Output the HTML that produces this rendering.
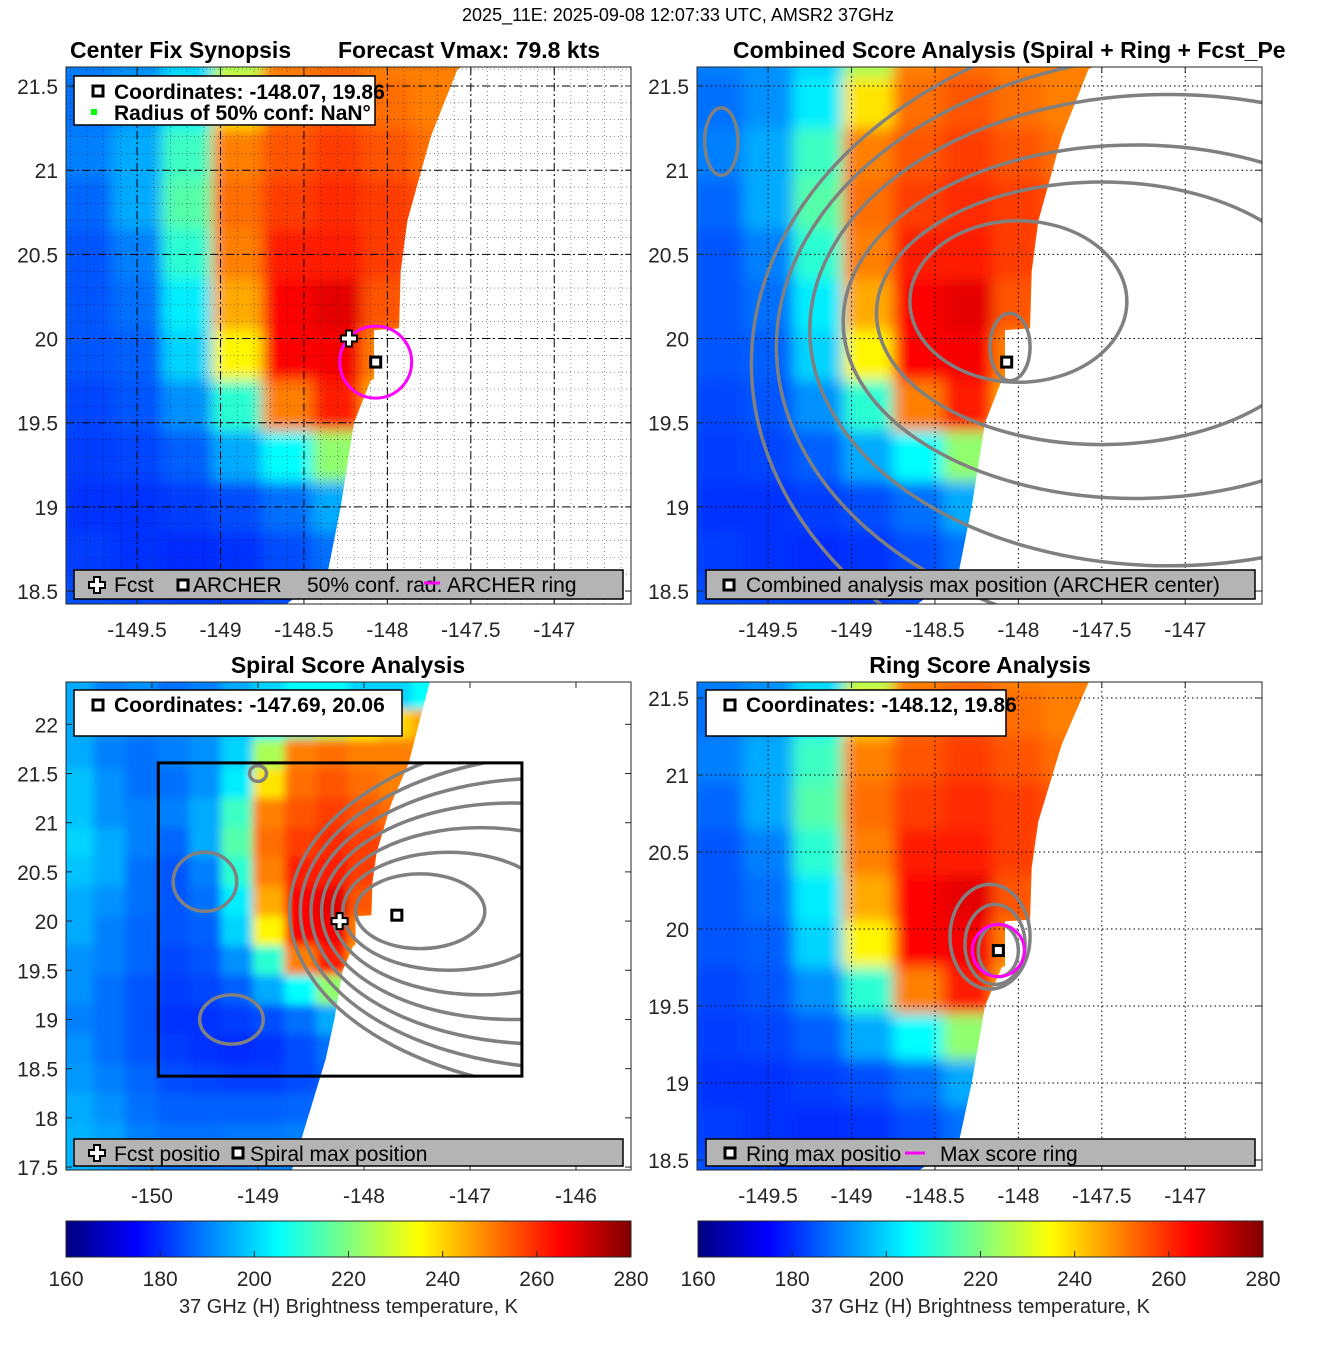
<!DOCTYPE html>
<html><head><meta charset="utf-8">
<style>
html,body{margin:0;padding:0;background:#fff;width:1317px;height:1350px;overflow:hidden;}
svg{display:block;font-family:"Liberation Sans",sans-serif;overflow:hidden;}
</style></head>
<body>
<svg id="fig" xmlns="http://www.w3.org/2000/svg" width="1317" height="1350" viewBox="0 0 1317 1350">
<text x="678" y="21" font-size="18" text-anchor="middle">2025_11E: 2025-09-08 12:07:33 UTC, AMSR2 37GHz</text>
<text x="70" y="58" font-size="23" font-weight="bold">Center Fix Synopsis</text>
<text x="338" y="58" font-size="23" font-weight="bold">Forecast Vmax: 79.8 kts</text>
<text x="733" y="58" font-size="23" font-weight="bold">Combined Score Analysis (Spiral + Ring + Fcst_Pe</text>
<text x="348" y="673" font-size="23" font-weight="bold" text-anchor="middle">Spiral Score Analysis</text>
<text x="980" y="673" font-size="23" font-weight="bold" text-anchor="middle">Ring Score Analysis</text>
<defs>
<filter id="blurA" x="-5%" y="-5%" width="110%" height="110%"><feGaussianBlur stdDeviation="7"/></filter>
<filter id="blurB" x="-5%" y="-5%" width="110%" height="110%"><feGaussianBlur stdDeviation="4.5"/></filter>
</defs>
<g id="layer"></g>
</svg>
<script>
// ---- data ----
const lonCenters = [-150.7,-150.4,-150.1,-149.8,-149.5,-149.2,-148.9,-148.6,-148.3,-148.0,-147.7,-147.4];
const latCenters = [22.3,22.0,21.7,21.4,21.1,20.8,20.5,20.2,19.9,19.6,19.3,19.0,18.7,18.4,18.1,17.8,17.5];
const tb = [
[195,190,192,188,190,195,200,205,205,200,200,205],
[195,192,190,190,192,198,205,215,225,235,240,245],
[195,190,188,190,192,200,225,250,252,250,250,250],
[198,192,188,188,192,203,238,252,255,252,250,250],
[198,192,190,190,195,212,250,255,258,255,252,250],
[200,195,190,187,195,215,252,258,260,258,255,250],
[198,195,188,185,190,210,250,262,262,258,250,240],
[195,192,188,185,188,203,245,265,268,255,235,220],
[195,190,187,185,186,200,236,265,266,250,205,200],
[192,190,187,183,185,192,210,250,262,245,215,200],
[192,188,185,182,183,186,195,205,222,225,210,200],
[190,188,185,181,181,182,184,188,195,198,195,195],
[192,188,185,182,181,180,181,184,188,190,190,190],
[193,190,187,184,183,182,182,184,186,188,188,188],
[195,192,188,186,186,186,186,187,188,188,188,188],
[196,194,190,188,188,189,189,190,190,190,190,190],
[196,194,190,188,188,189,190,190,190,190,190,190]];
const swathEdgeLat = [17.0,18.6,19.0,19.5,19.75,19.76,20.05,20.06,20.4,20.7,21.2,21.6,22.43,23.0];
const swathEdgeLon = [-148.72,-148.36,-148.28,-148.2,-148.1,-148.08,-148.08,-147.93,-147.92,-147.88,-147.74,-147.58,-147.38,-147.24];
const xTicks12 = [-149.5,-149,-148.5,-148,-147.5,-147];
const xTicks3 = [-150,-149,-148,-147,-146];
const yTicks12 = [21.5,21,20.5,20,19.5,19,18.5];
const yTicks3 = [22,21.5,21,20.5,20,19.5,19,18.5,18,17.5];
const yTicks4 = [21.5,21,20.5,20,19.5,19,18.5];
const cbTicks = [160,180,200,220,240,260,280];
// contour ellipses [lon, lat, rx, ry]
const contours2 = [[-148.0,20.22,0.65,0.48],[-147.5,20.15,1.35,0.78],[-147.3,20.1,1.75,1.05],[-147.1,20.05,2.15,1.4],[-146.9,19.95,2.55,1.75],[-146.7,19.85,2.9,2.1],[-149.78,21.17,0.1,0.2],[-148.05,19.95,0.12,0.2]];
const contours3 = [[-147.47,20.1,0.61,0.38],[-147.2,20.1,1.0,0.6],[-146.9,20.1,1.4,0.85],[-146.6,20.1,1.8,1.1],[-146.3,20.1,2.2,1.35],[-146.0,20.1,2.6,1.6],[-145.7,20.1,3.0,1.85],[-149.5,20.4,0.3,0.3],[-149.25,19.0,0.3,0.25],[-149.0,21.5,0.08,0.08]];
const contours4 = [[-148.12,19.86,0.12,0.17],[-148.14,19.9,0.18,0.26],[-148.17,19.95,0.24,0.34]];

const panels = [
 {id:'p1',x0:66,x1:631,y0:67,y1:604,lon0:-149.926,lon1:-146.54,lat0:18.423,lat1:21.613,xt:xTicks12,yt:yTicks12,grid:'dash',blur:'blurA'},
 {id:'p2',x0:697,x1:1262,y0:67,y1:604,lon0:-149.926,lon1:-146.54,lat0:18.423,lat1:21.613,xt:xTicks12,yt:yTicks12,grid:'dot',blur:'blurA'},
 {id:'p3',x0:66,x1:631,y0:682,y1:1170,lon0:-150.811,lon1:-145.481,lat0:17.47,lat1:22.43,xt:xTicks3,yt:yTicks3,grid:'none',blur:'blurB'},
 {id:'p4',x0:697,x1:1262,y0:682,y1:1170,lon0:-149.926,lon1:-146.54,lat0:18.435,lat1:21.604,xt:xTicks12,yt:yTicks4,grid:'dot',blur:'blurA'}];

const NS='http://www.w3.org/2000/svg';
const layer=document.getElementById('layer');
function mk(tag,attrs,parent){const e=document.createElementNS(NS,tag);for(const k in attrs)e.setAttribute(k,attrs[k]);(parent||layer).appendChild(e);return e;}
function sx(p,lon){return p.x0+(lon-p.lon0)/(p.lon1-p.lon0)*(p.x1-p.x0);}
function sy(p,lat){return p.y0+(p.lat1-lat)/(p.lat1-p.lat0)*(p.y1-p.y0);}
function clamp(v,a,b){return Math.max(a,Math.min(b,v));}
function jet(v){let t=(v-160)/120;t=Math.max(0,Math.min(1,t));
 const r=Math.max(0,Math.min(1,1.5-Math.abs(4*t-3))),g=Math.max(0,Math.min(1,1.5-Math.abs(4*t-2))),b=Math.max(0,Math.min(1,1.5-Math.abs(4*t-1)));
 return 'rgb('+Math.round(r*255)+','+Math.round(g*255)+','+Math.round(b*255)+')';}

panels.forEach((p,pi)=>{
 const M=14;
 const X0=p.x0-M,X1=p.x1+M,Y0=p.y0-M,Y1=p.y1+M;
 const defs=mk('defs',{});
 const cp=mk('clipPath',{id:p.id+'clip'},defs);
 mk('rect',{x:p.x0,y:p.y0,width:p.x1-p.x0,height:p.y1-p.y0},cp);
 const cs=mk('clipPath',{id:p.id+'swath'},defs);
 const pts=[[X0,clamp(sy(p,swathEdgeLat[0]),Y0,Y1)]];
 swathEdgeLat.forEach((la,i)=>pts.push([clamp(sx(p,swathEdgeLon[i]),X0,X1),clamp(sy(p,la),Y0,Y1)]));
 pts.push([X0,clamp(sy(p,swathEdgeLat[swathEdgeLat.length-1]),Y0,Y1)]);
 mk('polygon',{points:pts.map(a=>a[0].toFixed(1)+','+a[1].toFixed(1)).join(' ')},cs);
 const outer=mk('g',{'clip-path':'url(#'+p.id+'clip)'});
 
 
 const hmc=mk('g',{'clip-path':'url(#'+p.id+'swath)'},outer);
 const hm=mk('g',{filter:'url(#'+p.blur+')'},hmc);
 
 
 const nr=latCenters.length, nc=lonCenters.length;
 latCenters.forEach((lat,ri)=>{lonCenters.forEach((lon,ci)=>{
  const v=tb[ri][ci]; if(v==null) return;
  const ext=0.6;
  const la=lon-0.15-(ci===0?ext:0), lb=lon+0.15+(ci===nc-1?ext:0);
  const ta=lat+0.15+(ri===0?ext:0), tb2=lat-0.15-(ri===nr-1?ext:0);
  const xa=clamp(sx(p,la),X0,X1),xb=clamp(sx(p,lb)+0.8,X0,X1),ya=clamp(sy(p,ta),Y0,Y1),yb=clamp(sy(p,tb2)+0.8,Y0,Y1);
  if(xb-xa<=0||yb-ya<=0) return;
  const r=mk('rect',{x:xa.toFixed(1),y:ya.toFixed(1),width:(xb-xa).toFixed(1),height:(yb-ya).toFixed(1),fill:jet(v)},hm);
  
  
 });});
 // grid
 if(p.grid!=='none'){
  const dash=p.grid==='dash'?'8,3,2,3':'1.5,3';
  p.xt.forEach(t=>{const l=mk('line',{x1:sx(p,t),x2:sx(p,t),y1:p.y0,y2:p.y1,stroke:'#000','stroke-width':1,'stroke-dasharray':dash},outer);
   
   });
  p.yt.forEach(t=>{const l=mk('line',{x1:p.x0,x2:p.x1,y1:sy(p,t),y2:sy(p,t),stroke:'#000','stroke-width':1,'stroke-dasharray':dash},outer);
   
   });
  if(p.grid==='dash'){
   for(let t=p.lon0;t<p.lon1;t+=0.1){const l=mk('line',{x1:sx(p,Math.ceil(t*10)/10),x2:sx(p,Math.ceil(t*10)/10),y1:p.y0,y2:p.y1,stroke:'#000','stroke-width':0.6,'stroke-dasharray':'1,3',opacity:0.7},outer);
    
    }
   for(let t=p.lat0;t<p.lat1;t+=0.1){const l=mk('line',{x1:p.x0,x2:p.x1,y1:sy(p,Math.ceil(t*10)/10),y2:sy(p,Math.ceil(t*10)/10),stroke:'#000','stroke-width':0.6,'stroke-dasharray':'1,3',opacity:0.7},outer);
    
    }
  }
 }
 // contours
 let cset=pi===1?contours2:pi===2?contours3:pi===3?contours4:[];
 let cg=outer;
 if(pi===2){const cb=mk('clipPath',{id:'boxclip'},defs);mk('rect',{x:sx(p,-149.94),y:sy(p,21.608),width:sx(p,-146.51)-sx(p,-149.94),height:sy(p,18.424)-sy(p,21.608)},cb);
  cg=mk('g',{'clip-path':'url(#boxclip)'},outer);}
 cset.forEach(c=>{const e=mk('ellipse',{cx:sx(p,c[0]),cy:sy(p,c[1]),rx:Math.abs(sx(p,c[0]+c[2])-sx(p,c[0])),ry:Math.abs(sy(p,c[1]-c[3])-sy(p,c[1])),fill:'none',stroke:'#808080','stroke-width':3.5},cg);
  
  });
 // frame
 const fr=mk('rect',{x:p.x0,y:p.y0,width:p.x1-p.x0,height:p.y1-p.y0,fill:'none',stroke:'#262626','stroke-width':1});
 
 
 p.xt.forEach(t=>{const x=sx(p,t);
  mk('line',{x1:x,x2:x,y1:p.y1,y2:p.y1-6,stroke:'#262626'});mk('line',{x1:x,x2:x,y1:p.y0,y2:p.y0+6,stroke:'#262626'});
  const tx=mk('text',{x:x,y:p.y1+33,'font-size':21,'text-anchor':'middle',fill:'#262626'});tx.textContent=t;
  
  });
 p.yt.forEach(t=>{const y=sy(p,t);
  mk('line',{x1:p.x0,x2:p.x0+6,y1:y,y2:y,stroke:'#262626'});mk('line',{x1:p.x1,x2:p.x1-6,y1:y,y2:y,stroke:'#262626'});
  const tx=mk('text',{x:p.x0-8,y:y+8,'font-size':21,'text-anchor':'end',fill:'#262626'});tx.textContent=t;
  
  });
});

// markers
function sqMarker(x,y,name){const r=mk('rect',{x:x-5,y:y-5,width:10,height:10,fill:'#fff',stroke:'#000','stroke-width':3});
 
 }
function crossMarker(x,y,name){const pth=mk('path',{d:`M${x-3},${y-8}h6v5h5v6h-5v5h-6v-5h-5v-6h5z`,fill:'#fff',stroke:'#000','stroke-width':2});
 
 }
const P=panels;
const m1=mk('circle',{cx:sx(P[0],-148.07),cy:sy(P[0],19.86),r:36,fill:'none',stroke:'#ff00ff','stroke-width':3});


sqMarker(sx(P[0],-148.07),sy(P[0],19.86),'archer-marker');
crossMarker(sx(P[0],-148.23),sy(P[0],20.0),'fcst-marker');
sqMarker(sx(P[1],-148.07),sy(P[1],19.86),'combined-max-marker');
const bx=mk('rect',{x:sx(P[2],-149.94),y:sy(P[2],21.608),width:sx(P[2],-146.51)-sx(P[2],-149.94),height:sy(P[2],18.424)-sy(P[2],21.608),fill:'none',stroke:'#000','stroke-width':3});


crossMarker(sx(P[2],-148.23),sy(P[2],20.0),'fcst-position-marker');
sqMarker(sx(P[2],-147.69),sy(P[2],20.06),'spiral-max-marker');
const m4=mk('circle',{cx:sx(P[3],-148.12),cy:sy(P[3],19.86),r:26,fill:'none',stroke:'#ff00ff','stroke-width':3});


sqMarker(sx(P[3],-148.12),sy(P[3],19.86),'ring-max-marker');

// legends
function box(x,y,w,h,fill,name){const r=mk('rect',{x:x,y:y,width:w,height:h,fill:fill,stroke:'#000','stroke-width':1.5});
 
 }
function txt(x,y,s,bold,name){const t=mk('text',{x:x,y:y,'font-size':21,'font-weight':bold?'bold':'normal',fill:'#000'});t.textContent=s;
 
 }
box(74,76,301,49,'#fff','legend-top-p1');
sqMarker(98,91,'legend-marker');txt(114,99,'Coordinates: -148.07, 19.86',true,'coordinates-text');
mk('rect',{x:91,y:109,width:6,height:6,fill:'#00ff00'});txt(114,120,'Radius of 50% conf: NaN°',true,'radius-text');
box(74,570,549,29,'#b4b4b4','legend-bottom-p1');
crossMarker(97,585,'legend-fcst');txt(114,592,'Fcst',false,'legend-fcst-label');
sqMarker(183,585,'legend-archer');txt(193,592,'ARCHER',false,'legend-archer-label');
txt(307,592,'50% conf. rad.',false,'legend-conf-label');
mk('line',{x1:424,x2:440,y1:583,y2:583,stroke:'#ff00ff','stroke-width':3});
txt(447,592,'ARCHER ring',false,'legend-ring-label');
box(706,570,549,29,'#b4b4b4','legend-bottom-p2');
sqMarker(729,585,'legend-combined');txt(746,592,'Combined analysis max position (ARCHER center)',false,'legend-combined-label');
box(74,690,328,46,'#fff','legend-top-p3');
sqMarker(98,705,'legend-marker');txt(114,712,'Coordinates: -147.69, 20.06',true,'coordinates-text');
box(74,1139,549,27,'#b4b4b4','legend-bottom-p3');
crossMarker(97,1153,'legend-fcst');txt(114,1161,'Fcst positio',false,'legend-fcst-label');
sqMarker(238,1153,'legend-spiral');txt(250,1161,'Spiral max position',false,'legend-spiral-label');
box(706,690,300,46,'#fff','legend-top-p4');
sqMarker(730,705,'legend-marker');txt(746,712,'Coordinates: -148.12, 19.86',true,'coordinates-text');
box(706,1139,549,27,'#b4b4b4','legend-bottom-p4');
sqMarker(730,1153,'legend-ring');txt(746,1161,'Ring max positio',false,'legend-ring-label');
mk('line',{x1:905,x2:925,y1:1153,y2:1153,stroke:'#ff00ff','stroke-width':3});
txt(940,1161,'Max score ring',false,'legend-maxring-label');

// colorbars
[[66,631],[698,1263]].forEach((c,i)=>{
 const defs=mk('defs',{});const g=mk('linearGradient',{id:'jetg'+i,x1:0,x2:1,y1:0,y2:0},defs);
 for(let k=0;k<=24;k++){mk('stop',{offset:k/24,'stop-color':jet(160+120*k/24)},g);}
 const r=mk('rect',{x:c[0],y:1221,width:c[1]-c[0],height:36,fill:'url(#jetg'+i+')',stroke:'#262626'});
 
 
 cbTicks.forEach(t=>{const x=c[0]+(t-160)/120*(c[1]-c[0]);
  mk('line',{x1:x,x2:x,y1:1257,y2:1251,stroke:'#262626'});
  const tx=mk('text',{x:x,y:1286,'font-size':21,'text-anchor':'middle',fill:'#262626'});tx.textContent=t;
  
  });
 const lb=mk('text',{x:(c[0]+c[1])/2,y:1313,'font-size':20,'text-anchor':'middle',fill:'#262626'});lb.textContent='37 GHz (H) Brightness temperature, K';
 
 
});
</script>
</body></html>
